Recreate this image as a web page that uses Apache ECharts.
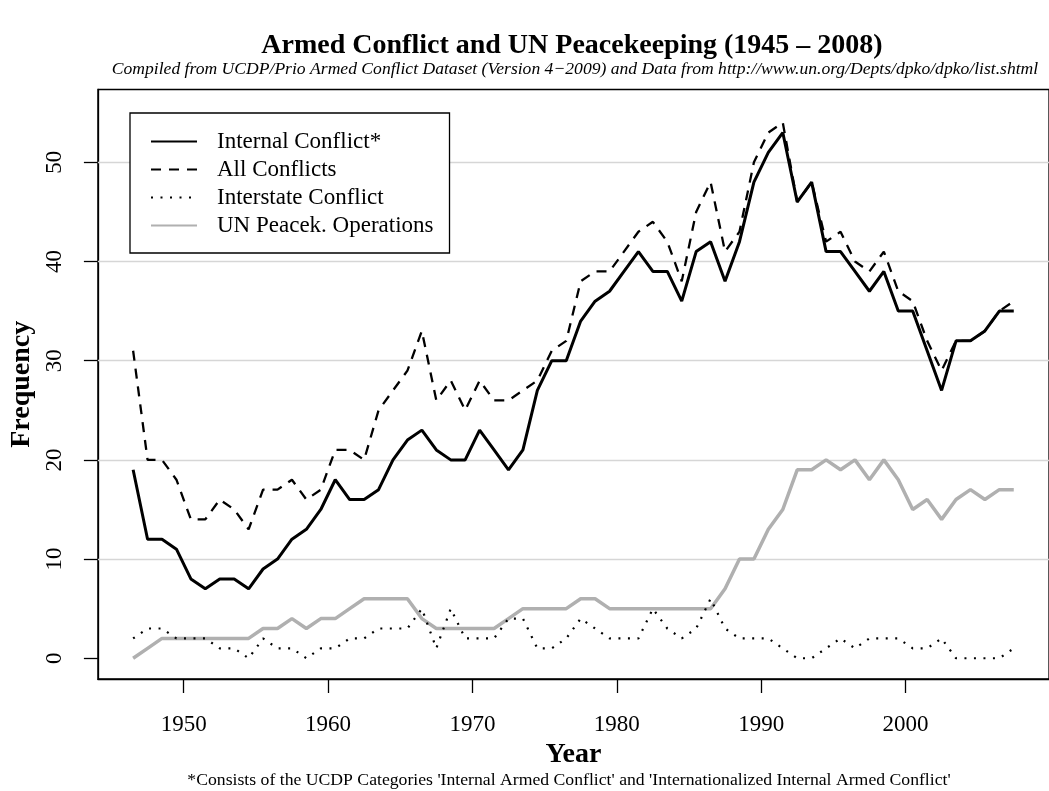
<!DOCTYPE html>
<html>
<head>
<meta charset="utf-8">
<script src="https://cdn.jsdelivr.net/npm/echarts@6/dist/echarts.min.js"></script>
<style>
html,body{margin:0;padding:0;background:#fff;}
#chart{width:1049px;height:791px;}
</style>
</head>
<body>
<div id="chart"></div>
<script>
// ---- data ----
const years = [1946,1947,1948,1949,1950,1951,1952,1953,1954,1955,1956,1957,1958,1959,1960,1961,1962,1963,1964,1965,1966,1967,1968,1969,1970,1971,1972,1973,1974,1975,1976,1977,1978,1979,1980,1981,1982,1983,1984,1985,1986,1987,1988,1989,1990,1991,1992,1993,1994,1995,1996,1997,1998,1999,2000,2001,2002,2003,2004,2005,2006,2007];
const internalConflict = [19,12,12,11,8,7,8,8,7,9,10,12,13,15,18,16,16,17,20,22,23,21,20,20,23,21,19,21,27,30,30,34,36,37,39,41,39,39,36,41,42,38,42,48,51,53,46,48,41,41,39,37,39,35,35,31,27,32,32,33,35,35];
const allConflicts = [31,20,20,18,14,14,16,15,13,17,17,18,16,17,21,21,20,25,27,29,33,26,28,25,28,26,26,27,28,31,32,38,39,39,41,43,44,42,38,45,48,41,43,50,53,54,46,48,42,43,40,39,41,37,36,32,29,32,32,33,35,36];
const interstateConflict = [2,3,3,2,2,2,1,1,0,2,1,1,0,1,1,2,2,3,3,3,5,1,5,2,2,2,4,4,1,1,2,4,3,2,2,2,5,3,2,3,6,3,2,2,2,1,0,0,1,2,1,2,2,2,1,1,2,0,0,0,0,1];
const unPeacekeeping = [0,1,2,2,2,2,2,2,2,3,3,4,3,4,4,5,6,6,6,6,4,3,3,3,3,3,4,5,5,5,5,6,6,5,5,5,5,5,5,5,5,7,10,10,13,15,19,19,20,19,20,18,20,18,15,16,14,16,17,16,17,17];
const xTicks = [1950,1960,1970,1980,1990,2000];
const yTicks = [0,10,20,30,40,50];
const seriesNames = ['Internal Conflict*','All Conflicts','Interstate Conflict','UN Peacek. Operations'];

const FONT = 'Liberation Serif';
// each yearly value is plotted at the middle of its year
const pts = arr => years.map((y,i)=>[y+0.5, arr[i]]);

const chart = echarts.init(document.getElementById('chart'), null, {renderer:'canvas'});
chart.setOption({
  animation:false,
  backgroundColor:'#fff',
  textStyle:{fontFamily:FONT},
  grid:{left:92.5, top:89.5, right:-3, bottom:112, show:true, borderColor:'#000', borderWidth:1.3, backgroundColor:'transparent'},
  graphic:[
    {type:'text', x:572, y:46, style:{text:'Armed Conflict and UN Peacekeeping (1945 \u2013 2008)', font:'bold 28px "Liberation Serif"', fill:'#000', textAlign:'center', textVerticalAlign:'middle'}},
    {type:'text', x:575, y:69, style:{text:'Compiled from UCDP/Prio Armed Conflict Dataset (Version 4\u22122009) and Data from http://www.un.org/Depts/dpko/dpko/list.shtml', font:'italic 17.6px "Liberation Serif"', fill:'#000', textAlign:'center', textVerticalAlign:'middle'}},
    {type:'text', x:569, y:780, style:{text:"*Consists of the UCDP Categories 'Internal Armed Conflict' and 'Internationalized Internal Armed Conflict'", font:'17.7px "Liberation Serif"', fill:'#000', textAlign:'center', textVerticalAlign:'middle'}}
  ],
  legend:{
    data:seriesNames,
    orient:'vertical', left:130, top:113, z:20,
    padding:[17,16,16,20],
    itemWidth:46, itemHeight:14, itemGap:5,
    itemStyle:{opacity:0},
    backgroundColor:'#fff', borderColor:'#000', borderWidth:1.3,
    textStyle:{fontFamily:FONT, fontSize:23, color:'#000', lineHeight:23, padding:[0,0,0,15]},
    selectedMode:false
  },
  xAxis:{
    type:'value', min:1944.06, max:2009.94,
    name:'Year', nameLocation:'middle', nameGap:58,
    nameTextStyle:{fontFamily:FONT, fontSize:28, fontWeight:'bold', color:'#000'},
    axisLine:{show:true, onZero:false, lineStyle:{color:'#000', width:1.3}},
    axisTick:{show:true, customValues:xTicks, length:14, lineStyle:{color:'#000', width:1.3}},
    axisLabel:{customValues:xTicks, margin:34, fontFamily:FONT, fontSize:23, color:'#000', formatter:v=>String(v)},
    splitLine:{show:false}
  },
  yAxis:{
    type:'value', min:-2.09, max:57.34,
    name:'Frequency', nameLocation:'middle', nameGap:56, nameRotate:90,
    nameTextStyle:{fontFamily:FONT, fontSize:28, fontWeight:'bold', color:'#000'},
    axisLine:{show:true, onZero:false, lineStyle:{color:'#000', width:1.3}},
    axisTick:{show:true, customValues:yTicks, length:14, lineStyle:{color:'#000', width:1.3}},
    axisLabel:{customValues:yTicks, rotate:90, margin:31, fontFamily:FONT, fontSize:23, color:'#000', formatter:v=>String(v)},
    splitLine:{show:false}
  },
  series:[
    {name:seriesNames[3], type:'line', data:pts(unPeacekeeping), symbol:'none', z:1,
     lineStyle:{color:'#b0b0b0', width:3.5, type:'solid'}, itemStyle:{color:'#b0b0b0'},
     markLine:{silent:true, symbol:['none','none'], label:{show:false}, z:1,
       lineStyle:{color:'#d6d6d6', width:1.3, type:'solid'},
       data:yTicks.filter(v=>v>0).map(v=>({yAxis:v}))}},
    {name:seriesNames[2], type:'line', data:pts(interstateConflict), symbol:'none', z:2,
     lineStyle:{color:'#000', width:2.2, type:[2,7.5]}, itemStyle:{color:'#000'}},
    {name:seriesNames[1], type:'line', data:pts(allConflicts), symbol:'none', z:3,
     lineStyle:{color:'#000', width:2.3, type:[10,8]}, itemStyle:{color:'#000'}},
    {name:seriesNames[0], type:'line', data:pts(internalConflict), symbol:'none', z:4,
     lineStyle:{color:'#000', width:3, type:'solid'}, itemStyle:{color:'#000'}}
  ]
});
</script>
</body>
</html>
